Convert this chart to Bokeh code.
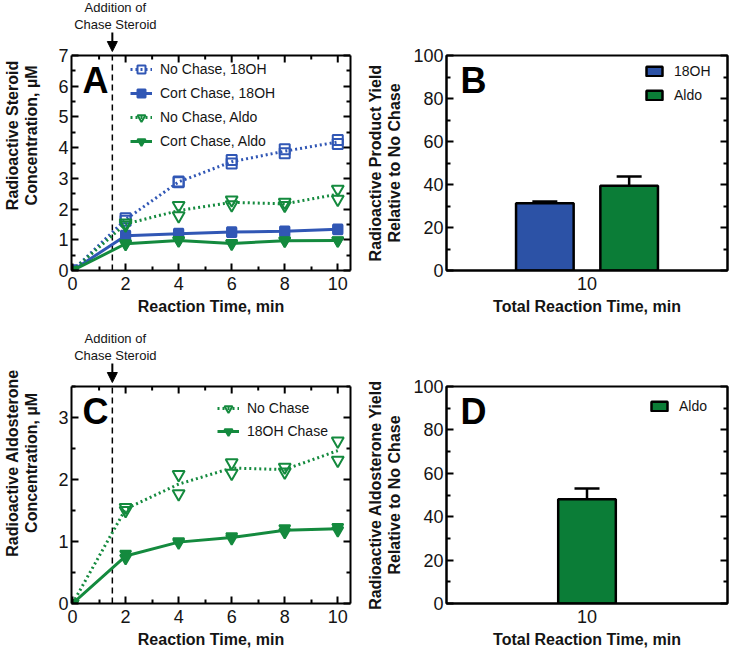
from bokeh.plotting import figure
from bokeh.layouts import column, row
from bokeh.models import (Span, Label, Arrow, NormalHead, Legend, LegendItem, LinearAxis,
                          FixedTicker, ColumnDataSource, Whisker, TeeHead, FactorRange, Range1d)
from bokeh.transform import dodge
from bokeh.embed import file_html
from bokeh.resources import INLINE

# ---------------- data ----------------
time_min = [0, 2, 4, 6, 8, 10]
time_minor = [1, 3, 5, 7, 9]

# Panel A (two replicates per time point)
a_nochase_18oh_rep1 = [0.0, 1.70, 2.90, 3.60, 3.95, 4.25]
a_nochase_18oh_rep2 = [0.0, 1.62, 2.87, 3.48, 3.82, 4.12]
a_cort_18oh_rep1 = [0.0, 1.15, 1.21, 1.26, 1.29, 1.35]
a_cort_18oh_rep2 = [0.0, 1.12, 1.19, 1.24, 1.27, 1.33]
a_nochase_aldo_rep1 = [0.0, 1.55, 2.12, 2.30, 2.22, 2.65]
a_nochase_aldo_rep2 = [0.0, 1.48, 1.78, 2.14, 2.12, 2.32]
a_cort_aldo_rep1 = [0.0, 0.88, 0.99, 0.89, 0.98, 0.98]
a_cort_aldo_rep2 = [0.0, 0.86, 0.97, 0.87, 0.96, 0.97]

# Panel C
c_nochase_rep1 = [0.0, 1.55, 2.08, 2.27, 2.20, 2.62]
c_nochase_rep2 = [0.0, 1.50, 1.77, 2.10, 2.12, 2.31]
c_18oh_rep1 = [0.0, 0.80, 1.00, 1.08, 1.21, 1.23]
c_18oh_rep2 = [0.0, 0.73, 0.98, 1.05, 1.15, 1.18]

# Panels B and D
bar_time = ["10"]
b_products = ["18OH", "Aldo"]
b_yield = [31.3, 39.4]
b_sem = [0.8, 4.3]
d_products = ["Aldo"]
d_yield = [48.0]
d_sem = [5.0]

chase_time = 1.5

# ---------------- style ----------------
FONT = "Liberation Sans"
TXT = "#141414"
BLUE = "#3157B5"
GREEN = "#148A3E"
BAR_BLUE = "#2C52A6"
BAR_GREEN = "#0B7D37"

LINE_W = 358
BAR_W = 371
LINE_BL, LINE_BR = 66, 8
BAR_BL, BAR_BR = 88, 2
X_START, X_END = -0.04, 10.48


def style_axis(ax, major_in=7, minor_in=4):
    ax.axis_line_width = 2
    ax.axis_line_color = "black"
    ax.major_tick_line_width = 2
    ax.minor_tick_line_width = 2
    ax.major_tick_line_color = "black"
    ax.minor_tick_line_color = "black"
    ax.major_tick_in = major_in
    ax.major_tick_out = 0
    ax.minor_tick_in = minor_in
    ax.minor_tick_out = 0
    ax.major_label_text_font = FONT
    ax.major_label_text_font_size = "18px"
    ax.major_label_text_color = TXT
    ax.axis_label_text_font = FONT
    ax.axis_label_text_font_size = "16px"
    ax.axis_label_text_font_style = "bold"
    ax.axis_label_text_color = TXT
    ax.axis_label_text_line_height = 1.15


def mirror_axis(p, ticker, side, bounds="auto"):
    ax = LinearAxis(ticker=ticker, bounds=bounds)
    style_axis(ax)
    ax.major_label_text_font_size = "1px"
    ax.major_label_text_alpha = 0
    ax.major_label_standoff = 0
    p.add_layout(ax, side)


def new_fig(width, height, x_range, y_range, b_left, b_right, b_top, b_bottom):
    p = figure(width=width, height=height, x_range=x_range, y_range=y_range, title=None,
               output_backend="svg", toolbar_location=None, frame_align=False,
               min_border_left=b_left, min_border_right=b_right,
               min_border_top=b_top, min_border_bottom=b_bottom)
    p.grid.visible = False
    p.background_fill_color = "white"
    p.border_fill_color = "white"
    return p


def letter(p, text, x, y, dx=11, dy=-4):
    p.add_layout(Label(x=x, y=y, x_offset=dx, y_offset=dy, text=text,
                       text_font=FONT, text_font_size="36px", text_font_style="bold",
                       text_color="black", text_baseline="top", text_align="left"))


def series(p, reps, color, dotted, marker, filled, size):
    mean = [sum(v) / len(v) for v in zip(*reps)]
    ln = p.line(time_min, mean, line_color=color, line_width=3,
                line_dash="2 3" if dotted else "solid")
    xs = [t for _ in reps for t in time_min]
    ys = [v for r in reps for v in r]
    sc = p.scatter(xs, ys, marker=marker, size=size, line_color=color, line_width=2,
                   fill_color=color if filled else None, fill_alpha=1 if filled else 0)
    return [ln, sc]


def add_legend(p, items, x, top_gap, box_h, spacing, glyph_w, glyph_h, standoff):
    n = len(items)
    leg_h = n * 20 + (n - 1) * spacing
    lg = Legend(items=items, location=(x, box_h - top_gap - leg_h),
                border_line_color=None, background_fill_alpha=0,
                padding=0, margin=0, spacing=spacing, label_height=20, glyph_height=glyph_h,
                glyph_width=glyph_w, label_standoff=standoff, label_text_font=FONT,
                label_text_font_size="14px", label_text_color=TXT)
    p.add_layout(lg)


def line_panel(height, box_top, bottom, ymax, yticks, yminor, ylabel, text_gap):
    # the frame reaches the top of the canvas; the plotting box is 0..ymax and the
    # strip above it carries the "Addition of Chase Steroid" arrow
    box_h = height - box_top - bottom
    frame_h = height - bottom
    upp = ymax / box_h
    p = new_fig(LINE_W, height, Range1d(X_START, X_END), Range1d(0, ymax * frame_h / box_h),
                LINE_BL, LINE_BR, 0, bottom)
    p.outline_line_color = None
    x_ticker = FixedTicker(ticks=time_min, minor_ticks=time_minor)
    y_ticker = FixedTicker(ticks=yticks, minor_ticks=yminor)
    p.xaxis.ticker = x_ticker
    p.yaxis.ticker = y_ticker
    p.yaxis.bounds = (0, ymax)
    style_axis(p.xaxis[0]); style_axis(p.yaxis[0])
    p.xaxis.major_label_standoff = 6
    p.yaxis.major_label_standoff = 3
    p.xaxis.axis_label = "Reaction Time, min"
    p.xaxis.axis_label_standoff = 5
    p.yaxis.axis_label = ylabel
    p.yaxis.axis_label_standoff = 15
    mirror_axis(p, y_ticker, "right", bounds=(0, ymax))
    # top edge of the plotting box with inward ticks
    p.add_layout(Span(location=ymax, dimension="width", line_color="black", line_width=2))
    top_major = [t for t in time_min if t > 0]
    p.segment(x0=top_major, y0=[ymax] * len(top_major), x1=top_major,
              y1=[ymax - 7 * upp] * len(top_major), line_color="black", line_width=2)
    p.segment(x0=time_minor, y0=[ymax] * len(time_minor), x1=time_minor,
              y1=[ymax - 4 * upp] * len(time_minor), line_color="black", line_width=2)
    # chase addition marker
    p.segment(x0=[chase_time], y0=[0], x1=[chase_time], y1=[ymax], line_color="black",
              line_width=1.5, line_dash="6 4")
    p.add_layout(Label(x=chase_time, y=ymax, x_offset=3, y_offset=text_gap,
                       text="Addition of\nChase Steroid", text_font=FONT, text_font_size="13px",
                       text_color=TXT, text_line_height=1.1, text_align="center",
                       text_baseline="bottom"))
    p.add_layout(Arrow(x_start=chase_time, y_start=ymax + (text_gap - 1) * upp,
                       x_end=chase_time, y_end=ymax + 4 * upp,
                       line_width=2, line_color="black",
                       end=NormalHead(size=10, fill_color="black", line_color="black")))
    return p, box_h


# ---------------- Panel A ----------------
A_H, A_BOXTOP, A_BOT = 322, 55, 52
pA, A_BOXH = line_panel(A_H, A_BOXTOP, A_BOT, 7, list(range(0, 8)),
                        [0.5 + i for i in range(7)], "Radioactive Steroid\nConcentration, µM", 24)
rA1 = series(pA, [a_nochase_18oh_rep1, a_nochase_18oh_rep2], BLUE, True, "square", False, 10)
rA2 = series(pA, [a_cort_18oh_rep1, a_cort_18oh_rep2], BLUE, False, "square", True, 9)
rA3 = series(pA, [a_nochase_aldo_rep1, a_nochase_aldo_rep2], GREEN, True, "inverted_triangle", False, 12)
rA4 = series(pA, [a_cort_aldo_rep1, a_cort_aldo_rep2], GREEN, False, "inverted_triangle", True, 11)
add_legend(pA, [LegendItem(label=l, renderers=r) for l, r in
                [("No Chase, 18OH", rA1), ("Cort Chase, 18OH", rA2),
                 ("No Chase, Aldo", rA3), ("Cort Chase, Aldo", rA4)]],
           59, 4, A_BOXH, 4, 22, 20, 8)
letter(pA, "A", X_START, 7)


# ---------------- bar panels ----------------
def bar_fig(height, top, bottom, products, yields, sems, colors, offsets, ylabel,
            letter_txt, legend_x, legend_gap):
    frame_h = height - top - bottom
    p = new_fig(BAR_W, height, FactorRange(factors=bar_time, range_padding=0), Range1d(0, 100),
                BAR_BL, BAR_BR, top, bottom)
    p.outline_line_color = "black"
    p.outline_line_width = 2
    y_ticker = FixedTicker(ticks=[0, 20, 40, 60, 80, 100], minor_ticks=[10, 30, 50, 70, 90])
    p.yaxis.ticker = y_ticker
    style_axis(p.xaxis[0], 0, 0)
    style_axis(p.yaxis[0])
    p.xaxis.major_label_standoff = 6
    p.yaxis.major_label_standoff = 3
    p.xaxis.axis_label = "Total Reaction Time, min"
    p.xaxis.axis_label_standoff = 5
    p.yaxis.axis_label = ylabel
    p.yaxis.axis_label_standoff = 7
    mirror_axis(p, y_ticker, "right")
    items = []
    for prod, yv, se, col, off in zip(products, yields, sems, colors, offsets):
        src = ColumnDataSource(dict(x=bar_time, top=[yv], upper=[yv + se]))
        xpos = dodge("x", off, range=p.x_range)
        r = p.vbar(x=xpos, top="top", bottom=0, width=0.205, source=src,
                   fill_color=col, line_color="black", line_width=2.5)
        p.add_layout(Whisker(source=src, base=xpos, lower="top", upper="upper",
                             line_color="black", line_width=2.5, lower_head=None,
                             upper_head=TeeHead(size=25, line_width=2.5, line_color="black")))
        items.append(LegendItem(label=prod, renderers=[r]))
    add_legend(p, items, legend_x, legend_gap, frame_h, 4, 20, 12, 10)
    letter(p, letter_txt, 0, 100, dx=14, dy=-4)
    return p


pB = bar_fig(A_H, A_BOXTOP, A_BOT, b_products, b_yield, b_sem,
             [BAR_BLUE, BAR_GREEN], [-0.15, 0.15],
             "Radioactive Product Yield\nRelative to No Chase", "B", 198, 6)

# ---------------- Panel C ----------------
C_H, C_BOXTOP, C_BOT = 333, 64, 52
pC, C_BOXH = line_panel(C_H, C_BOXTOP, C_BOT, 3.5, [0, 1, 2, 3], [0.5, 1.5, 2.5, 3.5],
                        "Radioactive Aldosterone\nConcentration, µM", 24)
rC1 = series(pC, [c_nochase_rep1, c_nochase_rep2], GREEN, True, "inverted_triangle", False, 12)
rC2 = series(pC, [c_18oh_rep1, c_18oh_rep2], GREEN, False, "inverted_triangle", True, 11)
add_legend(pC, [LegendItem(label="No Chase", renderers=rC1),
                LegendItem(label="18OH Chase", renderers=rC2)],
           146, 12, C_BOXH, 3, 22, 20, 8)
letter(pC, "C", X_START, 3.5)

# ---------------- Panel D ----------------
pD = bar_fig(C_H, C_BOXTOP, C_BOT, d_products, d_yield, d_sem,
             [BAR_GREEN], [0.0], "Radioactive Aldosterone Yield\nRelative to No Chase", "D", 203, 10)

layout = column(row(pA, pB), row(pC, pD))
open("out.html", "w").write(file_html(layout, INLINE))
